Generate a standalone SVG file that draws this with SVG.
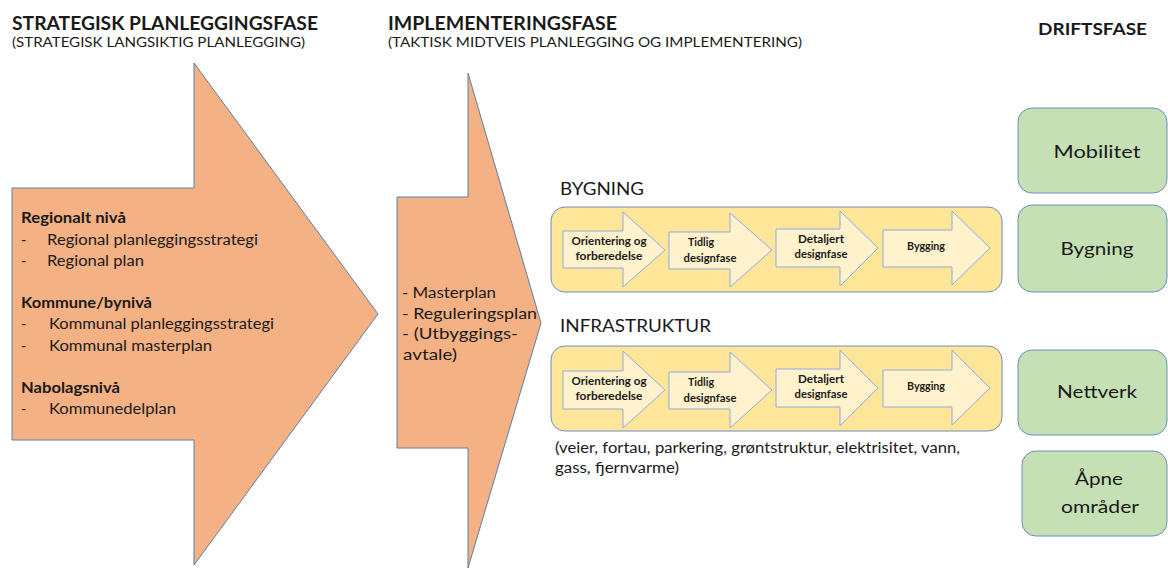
<svg xmlns="http://www.w3.org/2000/svg" width="1168" height="569" viewBox="0 0 1168 569">
<style>
text{font-family:Lato,"Open Sans","Liberation Sans",sans-serif;fill:#1a1a1a}
.h{font-size:18.5px;font-weight:bold}
.sub{font-size:14px}
.b{font-size:14.5px}
.bb{font-size:14.5px;font-weight:bold}
.lbl{font-size:17.5px}
.sm{font-size:11px;font-weight:bold;text-anchor:middle}
.g{font-size:18px;text-anchor:middle}
.big{fill:#F4B183;stroke:#5B7FA8;stroke-width:1}
.cont{fill:#FFE699;stroke:#6C8EBF;stroke-width:1}
.sa{fill:#FFF2CC;stroke:#8FAADC;stroke-width:1}
.gr{fill:#C5E0B4;stroke:#6C8EBF;stroke-width:1}
</style>
<rect width="1168" height="569" fill="#ffffff"/>
<g id="headers">
<text class="h" x="12" y="30" textLength="306" lengthAdjust="spacingAndGlyphs">STRATEGISK PLANLEGGINGSFASE</text>
<text class="sub" x="12" y="47" textLength="293" lengthAdjust="spacingAndGlyphs">(STRATEGISK LANGSIKTIG PLANLEGGING)</text>
<text class="h" x="388" y="30" textLength="229" lengthAdjust="spacingAndGlyphs">IMPLEMENTERINGSFASE</text>
<text class="sub" x="388" y="47" textLength="414" lengthAdjust="spacingAndGlyphs">(TAKTISK MIDTVEIS PLANLEGGING OG IMPLEMENTERING)</text>
<text class="h" x="1038" y="35" textLength="109" lengthAdjust="spacingAndGlyphs" style="font-size:17px">DRIFTSFASE</text>
</g>
<g id="strategisk">
<polygon class="big" points="12,188 194,188 194,63 378,314 194,565 194,440 12,440"/>
<text class="bb" x="21" y="223" textLength="105" lengthAdjust="spacingAndGlyphs">Regionalt nivå</text>
<text class="b" x="21" y="245">-</text>
<text class="b" x="47" y="245" textLength="211" lengthAdjust="spacingAndGlyphs">Regional planleggingsstrategi</text>
<text class="b" x="21" y="266">-</text>
<text class="b" x="47" y="266" textLength="97" lengthAdjust="spacingAndGlyphs">Regional plan</text>
<text class="bb" x="21" y="308" textLength="131" lengthAdjust="spacingAndGlyphs">Kommune/bynivå</text>
<text class="b" x="21" y="329">-</text>
<text class="b" x="49" y="329" textLength="225" lengthAdjust="spacingAndGlyphs">Kommunal planleggingsstrategi</text>
<text class="b" x="21" y="351">-</text>
<text class="b" x="49" y="351" textLength="163" lengthAdjust="spacingAndGlyphs">Kommunal masterplan</text>
<text class="bb" x="21" y="393" textLength="99" lengthAdjust="spacingAndGlyphs">Nabolagsnivå</text>
<text class="b" x="21" y="414">-</text>
<text class="b" x="49" y="414" textLength="127" lengthAdjust="spacingAndGlyphs">Kommunedelplan</text>
</g>
<g id="implementering">
<polygon class="big" points="397,197 468,197 468,73 541,323 468,568 468,448 397,448"/>
<text class="b" x="402" y="298" textLength="94" lengthAdjust="spacingAndGlyphs">- Masterplan</text>
<text class="b" x="402" y="319" textLength="135" lengthAdjust="spacingAndGlyphs">- Reguleringsplan</text>
<text class="b" x="402" y="339" textLength="116" lengthAdjust="spacingAndGlyphs">- (Utbyggings-</text>
<text class="b" x="403" y="360" textLength="54" lengthAdjust="spacingAndGlyphs">avtale)</text>
</g>
<g id="bygning">
<text class="lbl" x="560" y="195" textLength="84" lengthAdjust="spacingAndGlyphs">BYGNING</text>
<rect class="cont" x="551" y="207" width="451" height="85" rx="14"/>
<polygon class="sa" points="563,231 623,231 623,212 665,250 623,287 623,268 563,268"/>
<polygon class="sa" points="669,232 730,232 730,213 772,250 730,287 730,269 669,269"/>
<polygon class="sa" points="776,229 840,229 840,211 878,248 840,286 840,267 776,267"/>
<polygon class="sa" points="883,230 952,230 952,211 990,248 952,285 952,267 883,267"/>
<text class="sm" x="609" y="245" textLength="75" lengthAdjust="spacingAndGlyphs">Orientering og</text>
<text class="sm" x="609" y="260" textLength="67" lengthAdjust="spacingAndGlyphs">forberedelse</text>
<text class="sm" x="701" y="246" textLength="26" lengthAdjust="spacingAndGlyphs">Tidlig</text>
<text class="sm" x="710" y="262" textLength="53" lengthAdjust="spacingAndGlyphs">designfase</text>
<text class="sm" x="821" y="243" textLength="46" lengthAdjust="spacingAndGlyphs">Detaljert</text>
<text class="sm" x="821" y="258" textLength="53" lengthAdjust="spacingAndGlyphs">designfase</text>
<text class="sm" x="926" y="250" textLength="38" lengthAdjust="spacingAndGlyphs">Bygging</text>
</g>
<g id="infrastruktur">
<text class="lbl" x="560" y="332" textLength="151" lengthAdjust="spacingAndGlyphs">INFRASTRUKTUR</text>
<rect class="cont" x="551" y="346" width="451" height="85" rx="14"/>
<polygon class="sa" points="563,371 623,371 623,351 665,390 623,428 623,409 563,409"/>
<polygon class="sa" points="669,372 730,372 730,352 772,390 730,428 730,409 669,409"/>
<polygon class="sa" points="776,369 840,369 840,350 878,388 840,426 840,407 776,407"/>
<polygon class="sa" points="883,370 952,370 952,350 990,388 952,425 952,407 883,407"/>
<text class="sm" x="609" y="385" textLength="75" lengthAdjust="spacingAndGlyphs">Orientering og</text>
<text class="sm" x="609" y="400" textLength="67" lengthAdjust="spacingAndGlyphs">forberedelse</text>
<text class="sm" x="701" y="386" textLength="26" lengthAdjust="spacingAndGlyphs">Tidlig</text>
<text class="sm" x="710" y="402" textLength="53" lengthAdjust="spacingAndGlyphs">designfase</text>
<text class="sm" x="821" y="383" textLength="46" lengthAdjust="spacingAndGlyphs">Detaljert</text>
<text class="sm" x="821" y="398" textLength="53" lengthAdjust="spacingAndGlyphs">designfase</text>
<text class="sm" x="926" y="390" textLength="38" lengthAdjust="spacingAndGlyphs">Bygging</text>
<text class="b" x="555" y="453" textLength="405" lengthAdjust="spacingAndGlyphs">(veier, fortau, parkering, grøntstruktur, elektrisitet, vann,</text>
<text class="b" x="555" y="473" textLength="124" lengthAdjust="spacingAndGlyphs">gass, fjernvarme)</text>
</g>
<g id="mobilitet">
<rect class="gr" x="1018" y="108" width="149" height="85" rx="14"/>
<text class="g" x="1097" y="158" textLength="87" lengthAdjust="spacingAndGlyphs">Mobilitet</text>
</g>
<g id="bygning-drift">
<rect class="gr" x="1018" y="205" width="149" height="87" rx="14"/>
<text class="g" x="1097" y="255" textLength="73" lengthAdjust="spacingAndGlyphs">Bygning</text>
</g>
<g id="nettverk">
<rect class="gr" x="1018" y="350" width="149" height="85" rx="14"/>
<text class="g" x="1097" y="398" textLength="80" lengthAdjust="spacingAndGlyphs">Nettverk</text>
</g>
<g id="apne-omrader">
<rect class="gr" x="1022" y="451" width="145" height="85" rx="14"/>
<text class="g" x="1099" y="485" textLength="48" lengthAdjust="spacingAndGlyphs">Åpne</text>
<text class="g" x="1100" y="513" textLength="78" lengthAdjust="spacingAndGlyphs">områder</text>
</g>
<g id="connectors"></g>
</svg>
